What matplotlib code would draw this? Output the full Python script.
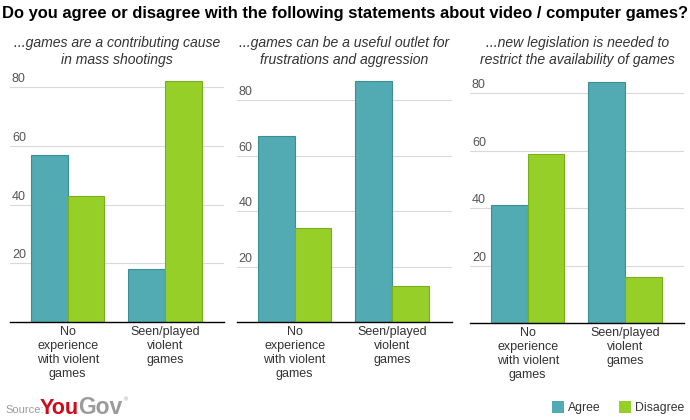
import matplotlib
matplotlib.use("Agg")
import matplotlib.pyplot as plt
from matplotlib.patches import Rectangle

# ---------------- data ----------------
title = "Do you agree or disagree with the following statements about video / computer games?"
subtitles = [
    "...games are a contributing cause\nin mass shootings",
    "...games can be a useful outlet for\nfrustrations and aggression",
    "...new legislation is needed to\nrestrict the availability of games",
]
categories = ["No\nexperience\nwith violent\ngames", "Seen/played\nviolent\ngames"]
series_names = ["Agree", "Disagree"]
agree = [[57, 18], [67, 87], [41, 84]]
disagree = [[43, 82], [34, 13], [59, 16]]
y_ticks = [20, 40, 60, 80]

# ---------------- style ----------------
W, H = 690, 420
DPI = 100
FONT = "Liberation Sans"
agree_fill, agree_edge = "#52abb2", "#3b8e95"
dis_fill, dis_edge = "#97cf29", "#7aae1c"
grid_col = "#d9d9d9"
text_col = "#333333"

fig = plt.figure(figsize=(W / DPI, H / DPI), dpi=DPI)
fig.patch.set_facecolor("white")


def fx(px):
    return px / W


def fy(py):
    return 1 - py / H


# pixel layout of the three panels: (left, right, baseline, y of 80 gridline)
layout = [
    (10.0, 224.3, 322.0, 87.3),
    (236.7, 451.7, 322.0, 100.3),
    (470.0, 684.3, 323.3, 93.3),
]
top_px = 68.0
bar_w = 0.377
xlim = (-0.593, 1.609)

for i, (l, r, base, g80) in enumerate(layout):
    ax = fig.add_axes([fx(l), fy(base), fx(r) - fx(l), (base - top_px) / H])
    scale = (base - g80) / 80.0
    ymax = (base - top_px) / scale
    ax.set_ylim(0, ymax)
    ax.set_xlim(*xlim)
    xs = list(range(len(categories)))
    ax.bar([x - bar_w / 2 for x in xs], agree[i], width=bar_w,
           color=agree_fill, edgecolor=agree_edge, linewidth=0.8, zorder=3)
    ax.bar([x + bar_w / 2 for x in xs], disagree[i], width=bar_w,
           color=dis_fill, edgecolor=dis_edge, linewidth=0.8, zorder=3)
    for s in ["top", "right", "left"]:
        ax.spines[s].set_visible(False)
    ax.spines["bottom"].set_color("#000000")
    ax.spines["bottom"].set_linewidth(1.0)
    ax.spines["bottom"].set_zorder(4)
    ax.set_yticks(y_ticks)
    ax.set_yticklabels([])
    ax.tick_params(axis="y", length=0)
    ax.yaxis.grid(True, color=grid_col, linewidth=0.8, zorder=0)
    ax.set_axisbelow(True)
    ax.set_xticks(xs)
    ax.set_xticklabels(categories, fontsize=9, family=FONT, color=text_col,
                       linespacing=1.22)
    ax.tick_params(axis="x", length=0, pad=3)
    for v in y_ticks:
        ax.annotate(str(v), xy=(0, v), xycoords=("axes fraction", "data"),
                    xytext=(2, 5), textcoords="offset pixels",
                    ha="left", va="baseline", fontsize=9, family=FONT,
                    color="#555555")
    # subtitle
    fig.text(fx((l + r) / 2), fy(51.5), subtitles[i], ha="center", va="center",
             fontsize=10.1, family=FONT, style="italic", color=text_col,
             linespacing=1.2)

# title
fig.text(fx(345), fy(13.5), title, ha="center", va="center", fontsize=11.85,
         family=FONT, weight="bold", color="#000000")

# source / logo
fig.text(fx(5), fy(413), "Source:", ha="left", va="baseline", fontsize=8.0,
         family=FONT, color="#9a9a9a")
fig.text(fx(40), fy(413.5), "You", ha="left", va="baseline", fontsize=15.5,
         family=FONT, weight="bold", color="#cf0a1a")
fig.text(fx(78), fy(413.5), "Gov", ha="left", va="baseline", fontsize=16.5,
         family=FONT, weight="bold", color="#9b9b9b")
fig.text(fx(124), fy(401), "®", ha="left", va="baseline", fontsize=4,
         family=FONT, color="#9b9b9b")

# legend
leg = [(552, agree_fill, agree_edge, series_names[0]),
       (619, dis_fill, dis_edge, series_names[1])]
for x0, fc, ec, name in leg:
    fig.add_artist(Rectangle((fx(x0), fy(412.5)), 12 / W, 12 / H,
                             transform=fig.transFigure, facecolor=fc,
                             edgecolor="none"))
    fig.text(fx(x0 + 15.5), fy(411.5), name, ha="left", va="baseline",
             fontsize=8.8, family=FONT, color=text_col)

fig.savefig("out.png", dpi=DPI, facecolor="white")
